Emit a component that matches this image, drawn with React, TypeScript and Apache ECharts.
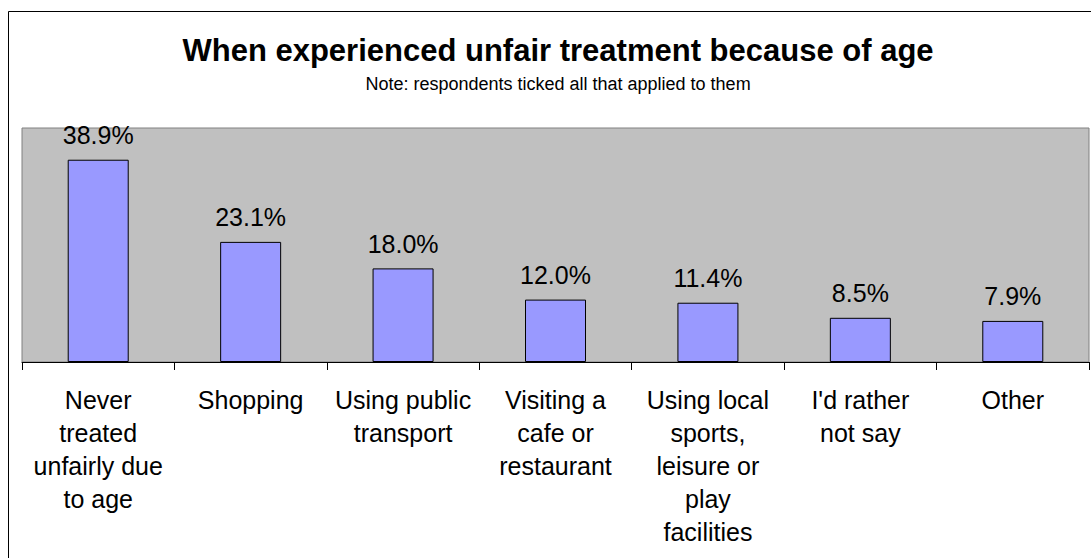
import React, { useEffect, useRef } from "react";
import * as echarts from "echarts";

const categories = [
  "Never\ntreated\nunfairly due\nto age",
  "Shopping",
  "Using public\ntransport",
  "Visiting a\ncafe or\nrestaurant",
  "Using local\nsports,\nleisure or\nplay\nfacilities",
  "I'd rather\nnot say",
  "Other",
];
const values = [38.9, 23.1, 18.0, 12.0, 11.4, 8.5, 7.9];
const titleText = "When experienced unfair treatment because of age";
const subtitleText = "Note: respondents ticked all that applied to them";

const FONT = "'Liberation Sans', Arial, sans-serif";

export default function App() {
  const ref = useRef<HTMLDivElement>(null);
  useEffect(() => {
    document.body.style.margin = "0";
    const chart = echarts.init(ref.current!, null, { renderer: "svg" });
    chart.setOption({
      animation: false,
      backgroundColor: "#ffffff",
      graphic: [
        {
          type: "rect",
          shape: { x: 8.5, y: 11.5, width: 1100, height: 600 },
          style: { fill: "none", stroke: "#000000", lineWidth: 1 },
          z: -1,
        },
        {
          type: "text",
          x: 558,
          y: 50,
          style: {
            text: titleText,
            font: `bold 31px ${FONT}`,
            fill: "#000",
            align: "center",
            verticalAlign: "middle",
          },
        },
        {
          type: "text",
          x: 558,
          y: 84,
          style: {
            text: subtitleText,
            font: `18px ${FONT}`,
            fill: "#000",
            align: "center",
            verticalAlign: "middle",
          },
        },
      ],
      grid: {
        left: 22,
        right: 2,
        top: 128,
        bottom: 196,
        show: true,
        backgroundColor: "#c0c0c0",
        borderColor: "#808080",
        borderWidth: 1,
      },
      xAxis: {
        type: "category",
        data: categories,
        axisLine: { show: true, lineStyle: { color: "#000", width: 1 } },
        axisTick: { show: true, alignWithLabel: false, length: 8, lineStyle: { color: "#000" } },
        axisLabel: {
          interval: 0,
          margin: 21,
          fontSize: 25,
          lineHeight: 33,
          color: "#000",
          fontFamily: FONT,
          align: "center",
          verticalAlign: "top",
        },
      },
      yAxis: {
        type: "value",
        min: 0,
        max: 45,
        show: false,
        splitLine: { show: false },
      },
      series: [
        {
          type: "bar",
          data: values,
          barWidth: 61,
          itemStyle: { color: "#9999ff", borderColor: "#000", borderWidth: 1 },
          label: {
            show: true,
            position: "top",
            distance: 12,
            fontSize: 25,
            color: "#000",
            fontFamily: FONT,
            formatter: (p: any) => p.value.toFixed(1) + "%",
          },
        },
      ],
    });
    return () => chart.dispose();
  }, []);
  return <div ref={ref} style={{ width: 1091, height: 558 }} />;
}
